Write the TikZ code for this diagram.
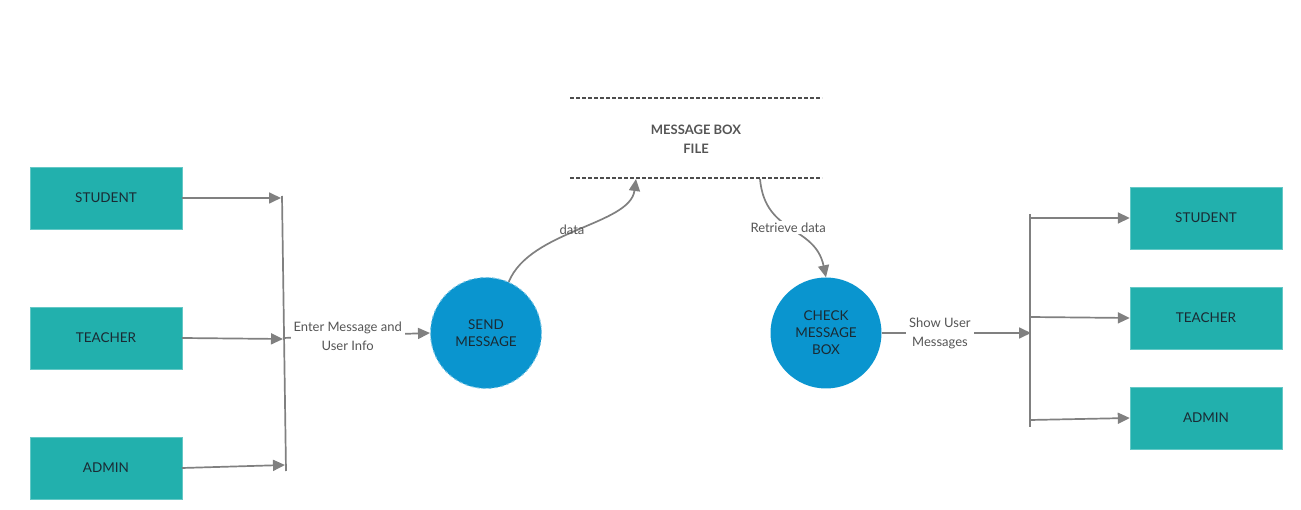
\documentclass[tikz,border=0pt]{standalone}
\usepackage{fontspec}
\setmainfont{Lato}
\usetikzlibrary{arrows.meta}
\definecolor{teal1}{HTML}{22B0AD}
\definecolor{blue1}{HTML}{0A95CF}
\definecolor{lin}{HTML}{808080}
\definecolor{txt}{HTML}{555555}
\definecolor{dark}{HTML}{1A2A33}
\tikzset{
  ent/.style={fill=teal1, draw=teal1!70!white, minimum width=152pt, minimum height=62pt, inner sep=0pt, font=\fontsize{13.5}{16}\selectfont, text=dark, text depth=0pt},
  proc/.style={circle, fill=blue1, minimum size=111pt, inner sep=0pt, align=center, font=\fontsize{13.5}{17}\selectfont, text=dark},
  arr/.style={draw=lin, line width=1.7pt, -{Triangle[length=12pt,width=11pt]}},
  ln/.style={draw=lin, line width=1.7pt},
  lbl/.style={font=\fontsize{13}{19}\selectfont, text=txt, align=center},
  store/.style={draw=lin!60!black, line width=1.3pt, dash pattern=on 4pt off 2pt}
}
\begin{document}
\begin{tikzpicture}[x=1pt,y=-1pt]
\useasboundingbox (0,0) rectangle (1301,510);
% left entities
\node[ent] (ls) at (106,198) {STUDENT};
\node[ent] (lt) at (106,338) {TEACHER};
\node[ent] (la) at (106,468) {ADMIN};
% right entities
\node[ent] (rs) at (1206,218) {STUDENT};
\node[ent] (rt) at (1206,318) {TEACHER};
\node[ent] (ra) at (1206,418) {ADMIN};
% processes
\node[proc, draw=blue1!55!white, line width=1pt, dashed] (send) at (486,333) {SEND\\MESSAGE};
\node[proc] (check) at (826,333) {CHECK\\MESSAGE\\BOX};
% data store
\coordinate (st1a) at (570,98);
\coordinate (st1b) at (822,98);
\coordinate (st2a) at (570,178);
\coordinate (st2b) at (822,178);
\draw[store] (st1a) -- (st1b);
\draw[store] (st2a) -- (st2b);
\node[font=\bfseries\fontsize{13}{19}\selectfont, text=txt, align=center] (file) at (696,139) {MESSAGE BOX\\FILE};
\coordinate (din) at (636,179);
\coordinate (dout) at (760,179);
% left bar
\coordinate (bt) at (282,196);
\coordinate (bb) at (286,471);
\coordinate (e1) at (281,198);
\coordinate (e2) at (283,339);
\coordinate (e3) at (285,465);
\coordinate (bm) at (283,338);
\draw[ln] (bt) -- (bb);
\draw[arr] (ls.east) -- (e1);
\draw[arr] (lt.east) -- (e2);
\draw[arr] (182,468) -- (e3);
\draw[arr] (bm) -- (send.west) node[lbl, pos=0.44, fill=white, inner sep=3pt] {Enter Message and\\User Info};
% data flows
\draw[arr] (send.66) .. controls (530,230) and (630,225) .. (din);
\node[lbl] (dlbl) at (572,230) {data};
\draw[arr] (dout) .. controls (765,235) and (815,225) .. (check.north) node[lbl, pos=0.47, fill=white, inner sep=2pt] {Retrieve data};
% right bar
\coordinate (rbt) at (1030,214);
\coordinate (rbb) at (1030,427);
\coordinate (rb1) at (1030,218);
\coordinate (rb2) at (1030,317);
\coordinate (rb3) at (1030,420);
\coordinate (rbm) at (1031,333);
\draw[ln] (rbt) -- (rbb);
\draw[arr] (check.east) -- (rbm) node[lbl, pos=0.39, fill=white, inner sep=3pt] {Show User\\Messages};
\draw[arr] (rb1) -- (rs.west);
\draw[arr] (rb2) -- (rt.west);
\draw[arr] (rb3) -- (ra.west);
\end{tikzpicture}
\end{document}
